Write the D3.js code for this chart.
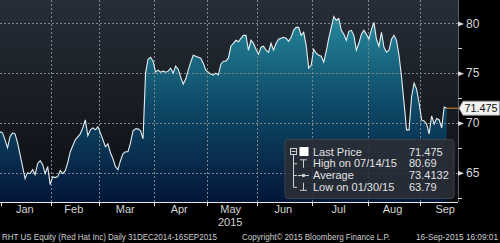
<!DOCTYPE html>
<html>
<head>
<meta charset="utf-8">
<script src="https://cdn.jsdelivr.net/npm/d3@7"></script>
<style>
body { margin: 0; background: #000; }
text { font-family: "Liberation Sans", Arial, sans-serif; }
</style>
</head>
<body>
<div id="main"></div>
<script>
// daily closes, 31 Dec 2014 .. 16 Sep 2015 (one per trading day)
var prices = [
  69.1, 69.0, 68.3, 67.5, 68.6, 69.0, 68.9, 68.0, 66.8, 65.6, 64.4, 65.0, 64.9, 65.3, 64.8, 65.9, 66.2, 65.8, 64.9, 65.6, 63.79,
  64.6, 64.5, 64.6, 65.2, 64.9, 65.2, 66.0, 67.1, 67.7, 68.3, 68.6, 68.9, 69.5, 70.3, 68.7, 69.3, 69.5, 69.3, 69.6,
  69.0, 68.3, 67.6, 67.9, 67.0, 66.4, 65.6, 65.3, 66.2, 66.9, 67.1, 67.1, 68.0, 69.2, 69.4, 69.4, 69.2, 68.4, 75.0, 76.4, 76.6, 76.2,
  75.1, 75.3, 75.1, 75.2, 75.1, 75.2, 75.5, 75.0, 75.7, 75.4, 74.6, 73.9, 74.4, 75.3, 76.1, 76.8, 76.7, 76.6, 76.5, 76.0, 75.3,
  75.1, 74.9, 74.8, 75.0, 74.8, 75.9, 76.2, 76.2, 76.5, 77.7, 78.0, 78.3, 78.15, 78.5, 78.8, 78.8, 77.3, 78.3, 78.0, 77.4,
  76.9, 77.6, 77.7, 77.3, 77.1, 78.0, 77.3, 78.0, 78.4, 78.5, 78.6, 78.5, 78.2, 78.6, 79.3, 79.6, 79.6, 78.8, 79.1, 77.8, 75.5, 75.8,
  77.4, 77.0, 76.8, 76.7, 76.1, 77.2, 78.5, 79.6, 80.69, 80.3, 80.5, 79.3, 78.9, 78.3, 79.2, 79.3, 78.8, 77.3, 78.0, 78.9, 79.3, 78.9,
  78.4, 79.4, 80.1, 78.4, 77.7, 79.1, 77.6, 77.1, 77.3, 78.4, 78.8, 78.3, 76.8, 74.6, 72.0, 69.3, 69.3, 72.6, 74.0, 73.4, 72.0,
  70.3, 70.2, 69.9, 68.9, 70.7, 69.9, 70.45, 70.3, 69.5, 71.6, 71.475
];
var monthNames = ["Jan", "Feb", "Mar", "Apr", "May", "Jun", "Jul", "Aug", "Sep"];
// index of first trading day of each month (last entry = 1 Oct)
var monthStarts = [1, 21, 40, 62, 83, 103, 125, 147, 168, 189];
var yTicks = [65, 70, 75, 80];
var yMinorTicks = [62.5, 67.5, 72.5, 77.5];
var legendLabels = ["Last Price", "High on 07/14/15", "Average", "Low on 01/30/15"];
var legendValues = ["71.475", "80.69", "73.4132", "63.79"];

var width = 500, height = 243;
var plotW = 458, plotH = 202;

var svg = d3.select("#main")
  .append("svg")
  .attr("width", width)
  .attr("height", height)
  .style("display", "block");

var x = d3.scaleLinear()
  .domain([0, 182.5])
  .range([0, plotW]);

var y = d3.scaleLinear()
  .domain([62.05, 82.35])
  .range([plotH, 0]);

var defs = svg.append("defs");
var bg = defs.append("linearGradient")
  .attr("id", "bgGrad")
  .attr("x1", 0).attr("y1", 0).attr("x2", 0).attr("y2", 1);
bg.append("stop").attr("offset", 0).attr("stop-color", "#272e38");
bg.append("stop").attr("offset", 1).attr("stop-color", "#0a0c10");

var ag = defs.append("linearGradient")
  .attr("id", "areaGrad")
  .attr("gradientUnits", "userSpaceOnUse")
  .attr("x1", 0).attr("y1", 0).attr("x2", 0).attr("y2", plotH);
ag.append("stop").attr("offset", 0).attr("stop-color", "#2a93a5");
ag.append("stop").attr("offset", 0.5).attr("stop-color", "#0f4c69");
ag.append("stop").attr("offset", 1).attr("stop-color", "#04163a");

svg.append("rect")
  .attr("width", plotW)
  .attr("height", plotH)
  .attr("fill", "url(#bgGrad)");

// price area + line
svg.append("path")
  .datum(prices)
  .attr("fill", "url(#areaGrad)")
  .attr("d", d3.area()
    .x((d, i) => x(i))
    .y0(plotH)
    .y1(d => y(d)));

// grid (drawn over the area, as in the terminal)
svg.selectAll(".hgrid")
  .data(yTicks)
  .enter()
  .append("line")
  .attr("x1", 0).attr("x2", plotW)
  .attr("y1", d => Math.round(y(d)) + 0.5)
  .attr("y2", d => Math.round(y(d)) + 0.5)
  .style("stroke", "#7d848c")
  .style("stroke-dasharray", "2,2");

svg.selectAll(".vgrid")
  .data(monthStarts.slice(1, 9))
  .enter()
  .append("line")
  .attr("x1", d => Math.round(x(d - 0.5)) + 0.5)
  .attr("x2", d => Math.round(x(d - 0.5)) + 0.5)
  .attr("y1", 0).attr("y2", plotH)
  .style("stroke", "#7d848c")
  .style("stroke-dasharray", "2,2");

svg.append("path")
  .datum(prices)
  .attr("fill", "none")
  .attr("stroke", "#e4eef0")
  .attr("stroke-width", 1.1)
  .attr("d", d3.line()
    .x((d, i) => x(i))
    .y(d => y(d)));

// last price marker line
var last = prices[prices.length - 1];
svg.append("line")
  .attr("x1", x(prices.length - 1)).attr("x2", plotW)
  .attr("y1", y(last)).attr("y2", y(last))
  .style("stroke", "#e08a2c");

// bottom axis
svg.append("line")
  .attr("x1", 0).attr("x2", plotW)
  .attr("y1", plotH + 0.5).attr("y2", plotH + 0.5)
  .style("stroke", "#e8e8e8");

svg.selectAll(".xtick")
  .data(monthStarts.slice(0, 9))
  .enter()
  .append("line")
  .attr("x1", d => Math.round(x(d - 0.5)) + 0.5)
  .attr("x2", d => Math.round(x(d - 0.5)) + 0.5)
  .attr("y1", plotH).attr("y2", plotH + 4)
  .style("stroke", "#e8e8e8");

svg.selectAll(".month")
  .data(monthNames)
  .enter()
  .append("text")
  .attr("x", (d, i) => x((monthStarts[i] + monthStarts[i + 1]) / 2 - 0.5) - 1.5)
  .attr("y", 213)
  .attr("text-anchor", "middle")
  .style("font-size", "11px")
  .style("fill", "#d4d4d4")
  .text(d => d);

svg.append("text")
  .attr("x", x((monthStarts[4] + monthStarts[5]) / 2 - 0.5) - 2)
  .attr("y", 226)
  .attr("text-anchor", "middle")
  .style("font-size", "11px")
  .style("fill", "#d4d4d4")
  .text("2015");

// right axis
svg.append("line")
  .attr("x1", plotW + 0.5).attr("x2", plotW + 0.5)
  .attr("y1", 0).attr("y2", plotH)
  .style("stroke", "#5a5f66");

svg.selectAll(".minor")
  .data(yMinorTicks)
  .enter()
  .append("line")
  .attr("x1", plotW).attr("x2", plotW + 4)
  .attr("y1", d => Math.round(y(d)) + 0.5)
  .attr("y2", d => Math.round(y(d)) + 0.5)
  .style("stroke", "#d8d8d8");

var yAxis = svg.append("g")
  .attr("transform", "translate(" + plotW + ",0)")
  .call(d3.axisRight(y)
    .tickValues(yTicks)
    .tickSize(0)
    .tickPadding(8));
yAxis.select(".domain").remove();
yAxis.selectAll("text")
  .style("font-family", "'Liberation Sans', Arial, sans-serif")
  .style("font-size", "12px")
  .style("fill", "#d8d8d8");
yAxis.selectAll(".tick")
  .append("path")
  .attr("d", "M0,-2.5L6,0L0,2.5Z")
  .attr("fill", "#d8d8d8");

// last price tag
var ly = y(last);
svg.append("path")
  .attr("d", "M459," + ly + "L463," + (ly - 7) + "H499.5V" + (ly + 7) + "H463Z")
  .attr("fill", "#f2f2f2")
  .attr("stroke", "#9a9a9a")
  .attr("stroke-width", 0.8);
svg.append("text")
  .attr("x", 464.5)
  .attr("y", ly + 4)
  .attr("textLength", 33)
  .attr("lengthAdjust", "spacingAndGlyphs")
  .style("font-size", "11px")
  .style("fill", "#111")
  .text(legendValues[0]);

// legend box
var lg = svg.append("g");
lg.append("rect")
  .attr("x", 285).attr("y", 139.5)
  .attr("width", 169).attr("height", 59)
  .attr("rx", 3)
  .attr("fill", "#2a2e35")
  .attr("fill-opacity", 0.9)
  .attr("stroke", "#3c424a");

var rowY = [151.5, 163.3, 175, 186.8];
lg.selectAll(".lab")
  .data(legendLabels)
  .enter()
  .append("text")
  .attr("x", 313)
  .attr("y", (d, i) => rowY[i] + 4)
  .style("font-size", "11px")
  .style("fill", "#e2e2e2")
  .text(d => d);
lg.selectAll(".val")
  .data(legendValues)
  .enter()
  .append("text")
  .attr("x", 409)
  .attr("y", (d, i) => rowY[i] + 4)
  .style("font-size", "11px")
  .style("fill", "#e2e2e2")
  .text(d => d);

// legend symbols
var sym = "#cfcfcf";
lg.append("rect").attr("x", 290.5).attr("y", 148.5).attr("width", 6).attr("height", 6)
  .attr("fill", "none").attr("stroke", sym);
lg.append("line").attr("x1", 291.5).attr("x2", 295.5).attr("y1", 151.5).attr("y2", 151.5).style("stroke", sym);
lg.append("rect").attr("x", 299.5).attr("y", 147).attr("width", 9).attr("height", 9).attr("fill", "#fff");
lg.append("path")
  .attr("d", "M293.5,155V" + (rowY[3] + 0.5) + "H297M293.5," + (rowY[1] + 0.5) + "H297M293.5," + (rowY[2] + 0.5) + "H297")
  .attr("fill", "none").attr("stroke", sym);
lg.append("path")
  .attr("d", "M300," + (rowY[1] - 3.5) + "H307M303.5," + (rowY[1] - 3.5) + "V" + (rowY[1] + 4.5))
  .attr("fill", "none").attr("stroke", sym);
lg.append("path")
  .attr("d", "M298," + (rowY[2] + 0.5) + "H309")
  .attr("fill", "none").attr("stroke", sym);
lg.append("circle").attr("cx", 303.5).attr("cy", rowY[2] + 0.5).attr("r", 1.8).attr("fill", sym);
lg.append("path")
  .attr("d", "M303.5," + (rowY[3] - 4) + "V" + (rowY[3] + 3.5) + "M300," + (rowY[3] + 3.5) + "H307")
  .attr("fill", "none").attr("stroke", sym);

// footer
var foot = [
  { t: "RHT US Equity (Red Hat Inc)  Daily 31DEC2014-16SEP2015", x: 2, w: 215 },
  { t: "Copyright\u00a9 2015 Bloomberg Finance L.P.", x: 242, w: 148 },
  { t: "16-Sep-2015 16:09:01", x: 416, w: 82 }
];
svg.selectAll(".foot")
  .data(foot)
  .enter()
  .append("text")
  .attr("x", d => d.x)
  .attr("y", 240)
  .attr("textLength", d => d.w)
  .attr("lengthAdjust", "spacingAndGlyphs")
  .style("font-size", "8.5px")
  .style("fill", "#cfcfcf")
  .text(d => d.t);
</script>
</body>
</html>
